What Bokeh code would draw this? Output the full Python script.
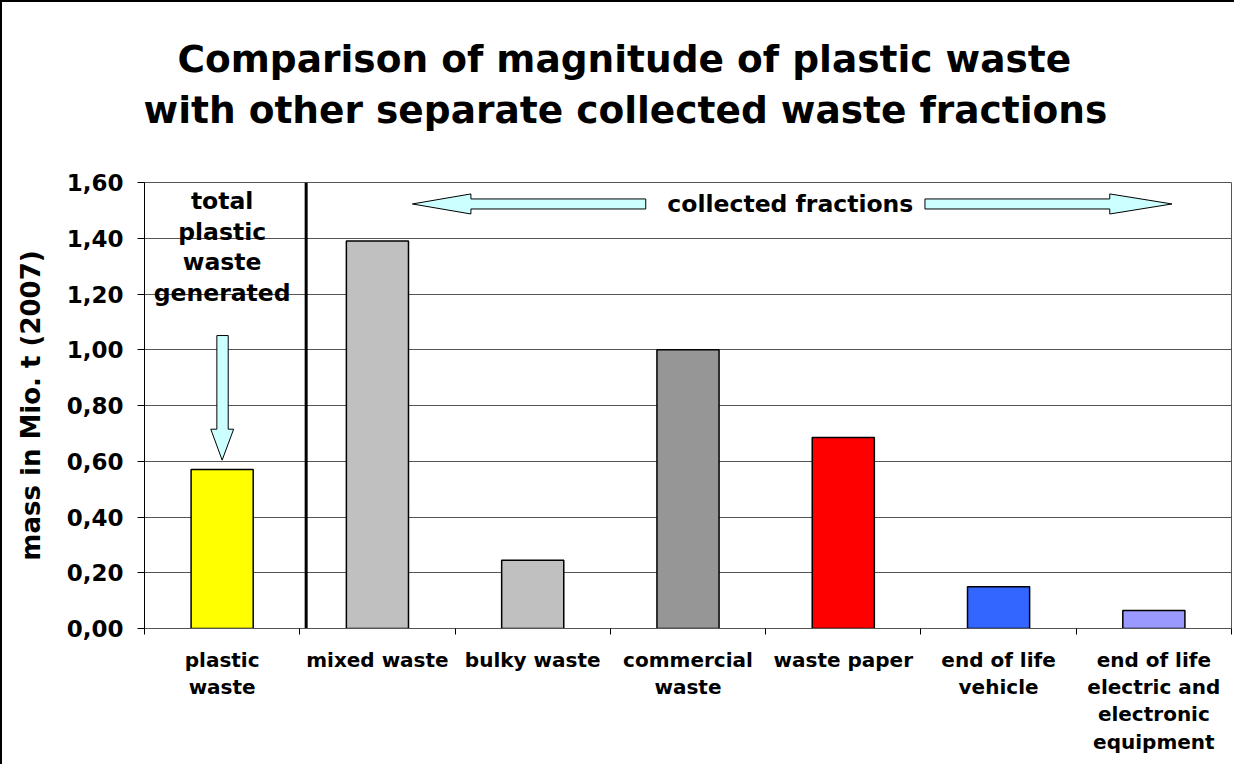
from bokeh.plotting import figure
from bokeh.models import FixedTicker, Title, LinearAxis
from bokeh.core.properties import value
from bokeh.embed import file_html
from bokeh.resources import INLINE

# ---- data ----
categories = ["plastic\nwaste", "mixed waste", "bulky waste", "commercial\nwaste",
              "waste paper", "end of life\nvehicle",
              "end of life\nelectric and\nelectronic\nequipment"]
mass_mio_t = [0.57, 1.39, 0.245, 1.00, 0.685, 0.15, 0.065]
y_ticks = [0.0, 0.2, 0.4, 0.6, 0.8, 1.0, 1.2, 1.4, 1.6]
y_tick_labels = ["0,00", "0,20", "0,40", "0,60", "0,80", "1,00", "1,20", "1,40", "1,60"]
bar_colors = ["#FFFF00", "#C0C0C0", "#C0C0C0", "#969696", "#FF0000", "#3366FF", "#9999FF"]

FONT = "DejaVu Sans"
n = len(categories)
centers = [i + 0.5 for i in range(n)]

p = figure(width=1234, height=764, x_range=(0, n), y_range=(0, 1.6),
           output_backend="svg", toolbar_location=None, title_location=None,
           min_border_left=142, min_border_right=5, min_border_top=180,
           min_border_bottom=138)
p.styles = {"border-left": "2px solid black", "border-top": "2px solid black"}

p.outline_line_color = "#555555"
p.xgrid.grid_line_color = None
p.ygrid.grid_line_color = "#555555"
p.ygrid.grid_line_width = 1

# bars
p.vbar(x=centers, top=mass_mio_t, width=0.4, fill_color=bar_colors,
       line_color="black", line_width=1.5)

# separator line
p.segment(x0=[1.041], y0=[0], x1=[1.041], y1=[1.6], line_color="black", line_width=3)

# y axis
yax = p.yaxis[0]
yax.ticker = FixedTicker(ticks=y_ticks, minor_ticks=[])
yax.major_label_overrides = {t: l for t, l in zip(y_ticks, y_tick_labels)}
yax.major_tick_out = 7
yax.major_tick_in = 0
yax.major_tick_line_color = "black"
yax.axis_line_color = "black"
yax.major_label_text_font = FONT
yax.major_label_text_font_style = "bold"
yax.major_label_text_font_size = "23px"
yax.major_label_text_color = "black"
yax.major_label_standoff = 14
yax.axis_label = "mass in Mio. t (2007)"
yax.axis_label_text_font = FONT
yax.axis_label_text_font_style = "bold"
yax.axis_label_text_font_size = "26px"
yax.axis_label_text_color = "black"
yax.axis_label_standoff = 18

# x axis
xax = p.xaxis[0]
xax.ticker = FixedTicker(ticks=centers, minor_ticks=list(range(n + 1)))
xax.major_label_overrides = {c: lab for c, lab in zip(centers, categories)}
xax.major_tick_out = 0
xax.major_tick_in = 0
xax.minor_tick_out = 6
xax.minor_tick_in = 0
xax.minor_tick_line_color = "black"
xax.axis_line_color = "#555555"
xax.major_label_text_font = FONT
xax.major_label_text_font_style = "bold"
xax.major_label_text_font_size = "20px"
xax.major_label_text_color = "black"
xax.major_label_text_line_height = 1.14
xax.major_label_standoff = 13

# arrows
fill = "#CCFFFF"
p.patch(x=[1.725, 2.102, 2.102, 3.228, 3.228, 2.102, 2.102],
        y=[1.523, 1.559, 1.541, 1.541, 1.505, 1.505, 1.487],
        fill_color=fill, line_color="black", line_width=1)
p.patch(x=[6.617, 6.216, 6.216, 5.026, 5.026, 6.216, 6.216],
        y=[1.523, 1.559, 1.541, 1.541, 1.505, 1.505, 1.487],
        fill_color=fill, line_color="black", line_width=1)
p.patch(x=[0.5, 0.427, 0.466, 0.466, 0.539, 0.539, 0.574],
        y=[0.604, 0.715, 0.715, 1.051, 1.051, 0.715, 0.715],
        fill_color=fill, line_color="black", line_width=1)

# annotations inside plot
p.text(x=[4.159], y=[1.523], text=["collected fractions"], text_font=value(FONT),
       text_font_style="bold", text_font_size="23.5px", text_align="center",
       text_baseline="middle", text_color="black")
for txt, yy in zip(["total", "plastic", "waste", "generated"], [1.535, 1.424, 1.316, 1.204]):
    p.text(x=[0.5], y=[yy], text=[txt], text_font=value(FONT),
           text_font_style="bold", text_font_size="23.5px", text_align="center",
           text_baseline="middle", text_color="black")

# spacer between frame and title lines (invisible axis, only its tick length counts)
spacer = LinearAxis(ticker=FixedTicker(ticks=[3.5], minor_ticks=[]),
                    major_label_overrides={3.5: ""},
                    axis_line_color=None, major_tick_line_color=None,
                    minor_tick_line_color=None, major_tick_out=49, major_tick_in=0,
                    minor_tick_out=0, major_label_standoff=0)
p.add_layout(spacer, "above")

# title (two lines)
t2 = Title(text="with other separate collected waste fractions", align="left", offset=-1,
           text_font=FONT, text_font_style="bold", text_font_size="37.5px",
           text_color="black", standoff=4)
t1 = Title(text="Comparison of magnitude of plastic waste", align="left", offset=33,
           text_font=FONT, text_font_style="bold", text_font_size="37.5px",
           text_color="black", standoff=6)
p.add_layout(t2, "above")
p.add_layout(t1, "above")

open("out.html", "w").write(file_html(p, INLINE))
